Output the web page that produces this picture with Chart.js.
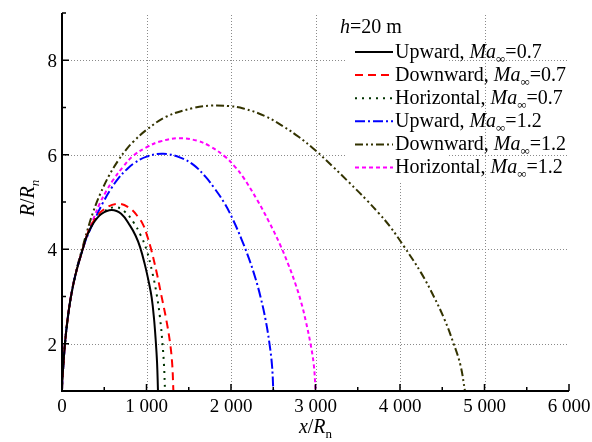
<!DOCTYPE html>
<html>
<head>
<meta charset="utf-8">
<script src="https://cdn.jsdelivr.net/npm/chart.js@4.4.1/dist/chart.umd.min.js"></script>
<style>
    html, body { margin: 0; padding: 0; background: #ffffff; }
</style>
</head>
<body>
<canvas id="graficoJato" width="592" height="442"></canvas>
<script>
    // eixos
    const xMajorTicks = [0, 1000, 2000, 3000, 4000, 5000, 6000];
    const xTickLabels = ['0', '1 000', '2 000', '3 000', '4 000', '5 000', '6 000'];
    const xMinorTicks = [500, 1500, 2500, 3500, 4500, 5500];
    const yMajorTicks = [2, 4, 6, 8];
    const yTickLabels = ['2', '4', '6', '8'];
    const yMinorTicks = [3, 5, 7, 9];

    // legenda
    const directions = ['Upward', 'Downward', 'Horizontal', 'Upward', 'Downward', 'Horizontal'];
    const machValues = ['0.7', '0.7', '0.7', '1.2', '1.2', '1.2'];

    // curvas [x/Rn, R/Rn]
    const upward07 = [[0, 1], [3, 1.2], [12, 1.45], [35, 2], [65, 2.5], [106, 3], [165, 3.5], [245, 4], [292, 4.27],
        [371, 4.55], [470, 4.75], [588, 4.83], [700, 4.75], [805, 4.5], [870, 4.29], [923, 4.05], [980, 3.68],
        [1030, 3.28], [1061, 2.98], [1088, 2.55], [1108, 2.1], [1125, 1.6], [1136, 1]];
    const downward07 = [[0, 1], [3, 1.2], [12, 1.45], [35, 2], [65, 2.5], [106, 3], [165, 3.5], [245, 4], [300, 4.32],
        [380, 4.61], [500, 4.85], [667, 4.96], [800, 4.87], [903, 4.68], [965, 4.5], [1005, 4.3], [1050, 4.03],
        [1115, 3.55], [1175, 3.03], [1235, 2.5], [1280, 2.0], [1305, 1.55], [1318, 1]];
    const horizontal07 = [[0, 1], [3, 1.2], [12, 1.45], [35, 2], [65, 2.5], [106, 3], [165, 3.5], [245, 4], [300, 4.3],
        [380, 4.59], [490, 4.79], [627, 4.89], [740, 4.8], [850, 4.56], [930, 4.3], [1002, 3.98], [1070, 3.5],
        [1120, 3.05], [1160, 2.55], [1187, 2.05], [1207, 1.55], [1219, 1]];
    const upward12 = [[0, 1], [3, 1.2], [12, 1.45], [35, 2], [65, 2.5], [106, 3], [165, 3.5], [245, 4], [300, 4.28],
        [400, 4.68], [489, 5.0], [580, 5.28], [667, 5.5], [760, 5.68], [844, 5.81], [1002, 5.96], [1199, 6.02],
        [1400, 5.94], [1560, 5.78], [1700, 5.53], [1800, 5.3], [1921, 4.98], [2020, 4.64], [2127, 4.2],
        [2217, 3.78], [2290, 3.38], [2351, 2.98], [2410, 2.5], [2454, 2.02], [2485, 1.55], [2501, 1]];
    const downward12 = [[0, 1], [3, 1.2], [12, 1.45], [35, 2], [65, 2.5], [106, 3], [165, 3.52], [245, 4.05], [300, 4.4],
        [371, 4.8], [450, 5.16], [560, 5.57], [666, 5.88], [760, 6.11], [840, 6.27], [1002, 6.53], [1239, 6.81],
        [1554, 6.99], [1760, 7.04], [1976, 7.03], [2146, 6.98], [2400, 6.82], [2619, 6.6], [2800, 6.38],
        [2994, 6.1], [3211, 5.74], [3400, 5.41], [3606, 5.04], [3750, 4.76], [3882, 4.48], [4047, 4.06],
        [4250, 3.5], [4400, 3.0], [4530, 2.5], [4631, 2.02], [4715, 1.55], [4769, 1]];
    const horizontal12 = [[0, 1], [3, 1.2], [12, 1.45], [35, 2], [65, 2.5], [106, 3], [165, 3.5], [245, 4], [300, 4.3],
        [380, 4.68], [450, 4.98], [530, 5.25], [607, 5.47], [720, 5.74], [844, 5.98], [1002, 6.16], [1160, 6.28],
        [1377, 6.35], [1594, 6.3], [1751, 6.18], [1929, 5.96], [2050, 5.74], [2146, 5.52], [2304, 5.06],
        [2450, 4.58], [2580, 4.1], [2680, 3.67], [2760, 3.28], [2830, 2.88], [2885, 2.48], [2943, 1.98], [2980, 1.55],
        [3002, 1]];

    const curvas = [upward07, downward07, horizontal07, upward12, downward12, horizontal12];
    const cores = ['#000000', '#ff0000', '#003300', '#0000ff', '#333300', '#ff00ff'];
    const tracos = [[], [8, 5], [2, 5], [10, 3, 2, 3], [8, 3, 2, 3, 2, 3], [4, 3]];

    const fonte = '"Liberation Serif", "Times New Roman", serif';

    function definirFonte(ctx, estilo) {
        if (estilo === 'i') ctx.font = `italic 20px ${fonte}`;
        else if (estilo === 's') ctx.font = `13px ${fonte}`;
        else if (estilo === 'si') ctx.font = `italic 13px ${fonte}`;
        else ctx.font = `20px ${fonte}`;
    }

    function medir(ctx, partes) {
        let w = 0;
        partes.forEach(([texto, estilo]) => {
            definirFonte(ctx, estilo);
            w += ctx.measureText(texto).width;
        });
        return w;
    }

    function desenharTexto(ctx, partes, x, y) {
        // partes: [texto, estilo] com estilo 'n' normal, 'i' itálico, 's'/'si' subscrito
        let cx = x;
        partes.forEach(([texto, estilo]) => {
            definirFonte(ctx, estilo);
            const dy = (estilo === 's' || estilo === 'si') ? 5 : 0;
            ctx.fillText(texto, cx, y + dy);
            cx += ctx.measureText(texto).width;
        });
        return cx - x;
    }

    const eixosPlugin = {
        id: 'eixosPlugin',
        beforeDatasetsDraw(chart) {
            const { ctx, chartArea: a, scales: { x, y } } = chart;
            ctx.save();
            ctx.strokeStyle = '#8a8a8a';
            ctx.lineWidth = 1;
            ctx.setLineDash([1, 2]);
            ctx.beginPath();
            xMajorTicks.slice(1, -1).forEach(v => {
                const px = Math.round(x.getPixelForValue(v)) + 0.5;
                ctx.moveTo(px, a.bottom);
                ctx.lineTo(px, a.top);
            });
            yMajorTicks.forEach(v => {
                const py = Math.round(y.getPixelForValue(v)) + 0.5;
                ctx.moveTo(a.left, py);
                ctx.lineTo(a.right, py);
            });
            ctx.stroke();
            ctx.setLineDash([]);
            // fundo branco atrás das amostras da legenda
            ctx.fillStyle = '#ffffff';
            ctx.fillRect(345, a.top, 103, 169);
            ctx.restore();
        },
        afterDatasetsDraw(chart) {
            const { ctx, chartArea: a, scales: { x, y } } = chart;
            ctx.save();
            ctx.strokeStyle = '#000000';
            ctx.lineWidth = 1.5;
            ctx.beginPath();
            xMajorTicks.forEach(v => {
                const px = x.getPixelForValue(v);
                ctx.moveTo(px, a.bottom);
                ctx.lineTo(px, a.bottom - 7);
            });
            xMinorTicks.forEach(v => {
                const px = x.getPixelForValue(v);
                ctx.moveTo(px, a.bottom);
                ctx.lineTo(px, a.bottom - 4);
            });
            yMajorTicks.forEach(v => {
                const py = y.getPixelForValue(v);
                ctx.moveTo(a.left, py);
                ctx.lineTo(a.left + 7, py);
            });
            yMinorTicks.forEach(v => {
                const py = y.getPixelForValue(v);
                ctx.moveTo(a.left, py);
                ctx.lineTo(a.left + 4, py);
            });
            ctx.stroke();
            ctx.lineWidth = 2;
            ctx.beginPath();
            ctx.moveTo(a.left, a.top);
            ctx.lineTo(a.left, a.bottom);
            ctx.lineTo(a.right, a.bottom);
            ctx.stroke();
            ctx.restore();
        },
        afterDraw(chart) {
            const { ctx, chartArea: a, scales: { x, y } } = chart;
            ctx.save();
            ctx.fillStyle = '#000000';
            ctx.textBaseline = 'alphabetic';

            // rótulos dos ticks
            ctx.font = `19px ${fonte}`;
            ctx.textAlign = 'center';
            xMajorTicks.forEach((v, i) => {
                ctx.fillText(xTickLabels[i], x.getPixelForValue(v), a.bottom + 21);
            });
            ctx.textAlign = 'right';
            yMajorTicks.forEach((v, i) => {
                ctx.fillText(yTickLabels[i], a.left - 5, y.getPixelForValue(v) + 7);
            });
            ctx.textAlign = 'left';

            // títulos dos eixos
            const partesX = [['x', 'i'], ['/', 'n'], ['R', 'i'], ['n', 's']];
            const larguraX = medir(ctx, partesX);
            desenharTexto(ctx, partesX, (a.left + a.right) / 2 - larguraX / 2, 433);

            const partesY = [['R', 'i'], ['/', 'n'], ['R', 'i'], ['n', 'si']];
            const larguraY = medir(ctx, partesY);
            ctx.save();
            ctx.translate(34, 198);
            ctx.rotate(-Math.PI / 2);
            desenharTexto(ctx, partesY, -larguraY / 2, 0);
            ctx.restore();

            // legenda
            desenharTexto(ctx, [['h', 'i'], ['=20 m', 'n']], 340, 33);
            directions.forEach((d, i) => {
                const base = 57.5 + i * 23.1;
                ctx.save();
                ctx.strokeStyle = cores[i];
                ctx.lineWidth = 2;
                ctx.setLineDash(tracos[i]);
                ctx.beginPath();
                ctx.moveTo(355, base - 5.5);
                ctx.lineTo(393, base - 5.5);
                ctx.stroke();
                ctx.restore();
                desenharTexto(ctx, [[`${d}, `, 'n'], ['Ma', 'i'], ['\u221e', 's'], [`=${machValues[i]}`, 'n']], 395, base);
            });
            ctx.restore();
        }
    };

    const datasets = curvas.map((curva, i) => ({
        label: `${directions[i]}, Ma=${machValues[i]}`,
        data: curva.map(([px, py]) => ({ x: px, y: py })),
        borderColor: cores[i],
        borderWidth: 2,
        borderDash: tracos[i],
        pointRadius: 0,
        showLine: true,
        fill: false,
        tension: 0.4
    }));

    const ctx = document.getElementById('graficoJato').getContext('2d');

    new Chart(ctx, {
        type: 'scatter',
        data: { datasets: datasets },
        options: {
            responsive: false,
            animation: false,
            layout: { padding: { top: 13, right: 23, left: 0, bottom: 0 } },
            plugins: {
                legend: { display: false },
                tooltip: { enabled: false }
            },
            scales: {
                x: {
                    type: 'linear',
                    min: 0,
                    max: 6000,
                    afterBuildTicks: scale => { scale.ticks = xMajorTicks.map(v => ({ value: v })); },
                    afterFit: scale => { scale.height = 51; },
                    grid: { display: false, drawTicks: false },
                    border: { display: false },
                    ticks: { display: false }
                },
                y: {
                    type: 'linear',
                    min: 1,
                    max: 9,
                    afterBuildTicks: scale => { scale.ticks = yMajorTicks.map(v => ({ value: v })); },
                    afterFit: scale => { scale.width = 62; },
                    grid: { display: false, drawTicks: false },
                    border: { display: false },
                    ticks: { display: false }
                }
            }
        },
        plugins: [eixosPlugin]
    });
</script>
</body>
</html>
